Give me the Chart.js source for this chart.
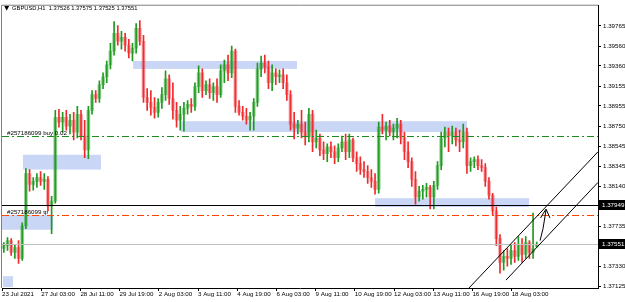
<!DOCTYPE html>
<html>
<head>
<meta charset="utf-8">
<script src="https://cdn.jsdelivr.net/npm/chart.js@4.4.1/dist/chart.umd.min.js"></script>
<style>
  html, body { margin: 0; padding: 0; background: #fff; }
</style>
</head>
<body>
<canvas id="chart" width="625" height="302"></canvas>
<script>
// GBPUSD H1, shown here as 3-hour candles
const opens = [
  1.3751, 1.3754, 1.3759, 1.3747, 1.3752, 1.3741, 1.3774, 1.3827, 1.3816, 1.3819,
  1.3823, 1.3819, 1.3821, 1.3794, 1.3799, 1.3884, 1.3879, 1.3884, 1.3875, 1.3881,
  1.3869, 1.3887, 1.3865, 1.3851, 1.3891, 1.3907, 1.3903, 1.3917, 1.3925, 1.3937,
  1.3951, 1.3969, 1.3961, 1.3965, 1.3957, 1.3949, 1.3954, 1.3974, 1.3961, 1.3904,
  1.3899, 1.3894, 1.3889, 1.3899, 1.3907, 1.3923, 1.3903, 1.3891, 1.3881, 1.3887,
  1.3893, 1.3897, 1.3895, 1.3915, 1.3929, 1.3911, 1.3917, 1.3909, 1.3915, 1.3907,
  1.3931, 1.3937, 1.3929, 1.3951, 1.3895, 1.3889, 1.3885, 1.3881, 1.3885, 1.3899,
  1.3933, 1.3939, 1.3935, 1.3919, 1.3929, 1.3925, 1.3927, 1.3919, 1.3907, 1.3877,
  1.3873, 1.3877, 1.3869, 1.3864, 1.3887, 1.3859, 1.3863, 1.3851, 1.3847, 1.3854,
  1.3849, 1.3843, 1.3853, 1.3859, 1.3849, 1.3861, 1.3843, 1.3837, 1.3831, 1.3829,
  1.3823, 1.3819, 1.3811, 1.3874, 1.3871, 1.3875, 1.3869, 1.3873, 1.3877, 1.3863,
  1.3849, 1.3839, 1.3821, 1.3803, 1.3809, 1.3811, 1.3813, 1.3803, 1.3815, 1.3835,
  1.3863, 1.3869, 1.3865, 1.3869, 1.3861, 1.3859, 1.3869, 1.3835, 1.3839, 1.3841,
  1.3835, 1.3833, 1.3819, 1.3805, 1.3789, 1.3761, 1.3737, 1.3743, 1.3741, 1.3749,
  1.3743, 1.3755, 1.3745, 1.3757, 1.3747, 1.37526
];
const highs = [
  1.3757, 1.3762, 1.3761, 1.3755, 1.3759, 1.3777, 1.3832, 1.3831, 1.3823, 1.3827,
  1.3829, 1.3827, 1.3824, 1.3804, 1.3891, 1.3892, 1.3889, 1.3891, 1.3887, 1.3889,
  1.3895, 1.3891, 1.3881, 1.3895, 1.3911, 1.3911, 1.3921, 1.3929, 1.3941, 1.3959,
  1.3981, 1.3977, 1.3971, 1.3969, 1.3963, 1.3959, 1.3979, 1.3982, 1.3967, 1.3913,
  1.3911, 1.3904, 1.3903, 1.3914, 1.3931, 1.3927, 1.3919, 1.3899, 1.3895, 1.3899,
  1.3901, 1.3903, 1.3919, 1.3936, 1.3933, 1.3921, 1.3923, 1.3919, 1.3923, 1.3937,
  1.3942, 1.3947, 1.3956, 1.3953, 1.3901, 1.3895, 1.3893, 1.3889, 1.3903, 1.3939,
  1.3946, 1.3947, 1.3941, 1.3937, 1.3933, 1.3932, 1.3933, 1.3927, 1.3911, 1.3889,
  1.3881, 1.3891, 1.3879, 1.3893, 1.3891, 1.3871, 1.3867, 1.3859, 1.3857, 1.3859,
  1.3855, 1.3857, 1.3865, 1.3867, 1.3867, 1.3863, 1.3849, 1.3844, 1.3839, 1.3835,
  1.3831, 1.3827, 1.3879, 1.3887, 1.3879, 1.3881, 1.3877, 1.3883, 1.3881, 1.3869,
  1.3859, 1.3843, 1.3829, 1.3814, 1.3815, 1.3817, 1.3815, 1.3819, 1.3839, 1.3869,
  1.3874, 1.3873, 1.3875, 1.3873, 1.3871, 1.3877, 1.3873, 1.3843, 1.3844, 1.3845,
  1.3841, 1.3837, 1.3823, 1.3807, 1.3793, 1.3765, 1.3749, 1.3751, 1.3755, 1.3757,
  1.3763, 1.3761, 1.3763, 1.3759, 1.3787, 1.37575
];
const lows = [
  1.3747, 1.3749, 1.3744, 1.3741, 1.3736, 1.3739, 1.3771, 1.3809, 1.3810, 1.3813,
  1.3815, 1.3811, 1.3789, 1.3766, 1.3797, 1.3874, 1.3869, 1.3871, 1.3867, 1.3861,
  1.3863, 1.3861, 1.3843, 1.3842, 1.3887, 1.3899, 1.3899, 1.3913, 1.3919, 1.3933,
  1.3947, 1.3957, 1.3953, 1.3951, 1.3944, 1.3941, 1.3949, 1.3957, 1.3899, 1.3891,
  1.3886, 1.3883, 1.3884, 1.3893, 1.3901, 1.3897, 1.3882, 1.3874, 1.3871, 1.3870,
  1.3887, 1.3889, 1.3891, 1.3909, 1.3904, 1.3907, 1.3903, 1.3901, 1.3899, 1.3904,
  1.3919, 1.3921, 1.3924, 1.3889, 1.3886, 1.3881, 1.3877, 1.3871, 1.3871, 1.3895,
  1.3925, 1.3929, 1.3913, 1.3911, 1.3917, 1.3919, 1.3913, 1.3901, 1.3871, 1.3862,
  1.3867, 1.3863, 1.3856, 1.3859, 1.3849, 1.3853, 1.3845, 1.3841, 1.3839, 1.3843,
  1.3837, 1.3839, 1.3849, 1.3841, 1.3843, 1.3839, 1.3829, 1.3826, 1.3823, 1.3817,
  1.3813, 1.3806, 1.3807, 1.3867, 1.3861, 1.3865, 1.3861, 1.3863, 1.3857, 1.3841,
  1.3833, 1.3814, 1.3796, 1.3799, 1.3801, 1.3803, 1.3791, 1.3791, 1.3811, 1.3831,
  1.3854, 1.3849, 1.3857, 1.3855, 1.3849, 1.3853, 1.3827, 1.3829, 1.3833, 1.3831,
  1.3829, 1.3814, 1.3801, 1.3785, 1.3754, 1.3726, 1.3729, 1.3733, 1.3735, 1.3737,
  1.3739, 1.3737, 1.3741, 1.3741, 1.3741, 1.37525
];
const closes = [
  1.3754, 1.3759, 1.3747, 1.3752, 1.3741, 1.3774, 1.3827, 1.3816, 1.3819, 1.3823,
  1.3819, 1.3821, 1.3794, 1.3799, 1.3884, 1.3879, 1.3884, 1.3875, 1.3881, 1.3869,
  1.3887, 1.3865, 1.3851, 1.3891, 1.3907, 1.3903, 1.3917, 1.3925, 1.3937, 1.3951,
  1.3969, 1.3961, 1.3965, 1.3957, 1.3949, 1.3954, 1.3974, 1.3961, 1.3904, 1.3899,
  1.3894, 1.3889, 1.3899, 1.3907, 1.3923, 1.3903, 1.3891, 1.3881, 1.3887, 1.3893,
  1.3897, 1.3895, 1.3915, 1.3929, 1.3911, 1.3917, 1.3909, 1.3915, 1.3907, 1.3931,
  1.3937, 1.3929, 1.3951, 1.3895, 1.3889, 1.3885, 1.3881, 1.3885, 1.3899, 1.3933,
  1.3939, 1.3935, 1.3919, 1.3929, 1.3925, 1.3927, 1.3919, 1.3907, 1.3877, 1.3873,
  1.3877, 1.3869, 1.3864, 1.3887, 1.3859, 1.3863, 1.3851, 1.3847, 1.3854, 1.3849,
  1.3843, 1.3853, 1.3859, 1.3849, 1.3861, 1.3843, 1.3837, 1.3831, 1.3829, 1.3823,
  1.3819, 1.3811, 1.3874, 1.3871, 1.3875, 1.3869, 1.3873, 1.3877, 1.3863, 1.3849,
  1.3839, 1.3821, 1.3803, 1.3809, 1.3811, 1.3813, 1.3803, 1.3815, 1.3835, 1.3863,
  1.3869, 1.3865, 1.3869, 1.3861, 1.3859, 1.3869, 1.3835, 1.3839, 1.3841, 1.3835,
  1.3833, 1.3819, 1.3805, 1.3789, 1.3761, 1.3737, 1.3743, 1.3741, 1.3749, 1.3743,
  1.3755, 1.3745, 1.3757, 1.3747, 1.3751, 1.37551
];

const hoursPerBar = 3;
const visibleHours = 486.5;     // chart width in H1 bars, incl. the shift area on the right
const labelStep = 32;           // one time label every 32 bars
const timeLabels = [
  "23 Jul 2021", "27 Jul 03:00", "28 Jul 11:00", "29 Jul 19:00", "2 Aug 03:00",
  "3 Aug 11:00", "4 Aug 19:00", "6 Aug 03:00", "9 Aug 11:00", "10 Aug 19:00",
  "12 Aug 03:00", "13 Aug 11:00", "16 Aug 19:00", "18 Aug 03:00"
];
const priceTicks = [
  1.39765, 1.39560, 1.39360, 1.39155, 1.38955, 1.38750, 1.38545,
  1.38345, 1.38140, 1.37735, 1.37330, 1.37125
];
const priceMin = 1.3711;
const priceMax = 1.3997;

const symbolTitle = "GBPUSD,H1  1.37526 1.37575 1.37525 1.37551";
const orderId = "#257186099";
const buyPrice = 1.3865;
const tpPrice = 1.3785;
const levelPrice = 1.37949;
const bidPrice = 1.37551;

// drawn rectangles: [from hour, to hour, upper price, lower price]
const zones = [
  [17.1, 80.8, 1.3846, 1.3831],
  [0, 41.6, 1.3785, 1.3770],
  [0.8, 9.0, 1.3723, 1.3712],
  [107.0, 240.8, 1.3941, 1.3933],
  [146.1, 379.6, 1.3880, 1.3869],
  [304.5, 430.2, 1.3802, 1.3793]
];
// trend channel: [hour, price] pairs
const channelTop = [[381.2, 1.3711], [486.5, 1.3849]];
const channelBottom = [[411.4, 1.3719], [486.5, 1.3818]];
const arrowPath = [[439.2, 1.3759], [441.6, 1.3771], [444.1, 1.3790]];
const arrowHead = [[439.6, 1.3782], [444.1, 1.3791], [447.3, 1.3782]];

const FONT = "'Liberation Sans', Arial, sans-serif";
const isBull = (i) => closes[i] >= opens[i];
const barX = (i) => i * hoursPerBar + hoursPerBar / 2;

const bodyData = opens.map((o, i) => ({ x: barX(i), y: [o, closes[i]] }));
const wickData = highs.map((h, i) => ({ x: barX(i), y: [lows[i], h] }));

const overlayPlugin = {
  id: "mtOverlay",
  beforeDatasetsDraw(chart) {
    const { ctx, chartArea: a, scales: { x, y } } = chart;
    ctx.save();
    ctx.beginPath();
    ctx.rect(a.left, a.top, a.right - a.left, a.bottom - a.top);
    ctx.clip();
    ctx.fillStyle = "#c9d6f6";
    zones.forEach(([h1, h2, p1, p2]) => {
      const x1 = x.getPixelForValue(h1), x2 = x.getPixelForValue(h2);
      const y1 = y.getPixelForValue(p1), y2 = y.getPixelForValue(p2);
      ctx.fillRect(x1, y1, x2 - x1, y2 - y1);
    });
    ctx.restore();
  },
  afterDatasetsDraw(chart) {
    const { ctx, chartArea: a, scales: { x, y } } = chart;
    const hLine = (price, color, dash) => {
      const py = Math.round(y.getPixelForValue(price)) + 0.5;
      ctx.strokeStyle = color;
      ctx.setLineDash(dash);
      ctx.beginPath();
      ctx.moveTo(a.left, py);
      ctx.lineTo(a.right, py);
      ctx.stroke();
      return py;
    };
    const path = (pts) => {
      ctx.beginPath();
      pts.forEach(([h, p], i) => {
        const px = x.getPixelForValue(h), py = y.getPixelForValue(p);
        if (i === 0) ctx.moveTo(px, py); else ctx.lineTo(px, py);
      });
      ctx.stroke();
    };

    ctx.save();
    ctx.beginPath();
    ctx.rect(a.left, a.top, a.right - a.left, a.bottom - a.top);
    ctx.clip();
    ctx.lineWidth = 1;
    hLine(bidPrice, "#c0c0c0", []);
    const buyY = hLine(buyPrice, "#1e8a1e", [7, 3, 2, 3]);
    const tpY = hLine(tpPrice, "#ff4500", [7, 3, 2, 3]);
    hLine(levelPrice, "#000000", []);
    ctx.setLineDash([]);
    ctx.strokeStyle = "#000";
    path(channelTop);
    path(channelBottom);
    path(arrowPath);
    path(arrowHead);

    ctx.font = "6.2px " + FONT;
    ctx.fillStyle = "#000";
    ctx.textAlign = "left";
    ctx.textBaseline = "bottom";
    ctx.fillText(orderId + " buy 0.02", a.left + 5, buyY - 0.5);
    ctx.fillText(orderId + " tp", a.left + 5, tpY - 0.5);

    ctx.textBaseline = "middle";
    ctx.font = "7px 'DejaVu Sans', sans-serif";
    ctx.fillText("\u25BC", a.left + 2, 8);
    ctx.font = "5.8px " + FONT;
    ctx.fillText(symbolTitle, a.left + 10, 8.5);
    ctx.restore();

    // frame
    ctx.save();
    ctx.strokeStyle = "#808080";
    ctx.lineWidth = 1;
    ctx.beginPath();
    ctx.moveTo(a.left - 0.5, a.bottom);
    ctx.lineTo(a.left - 0.5, a.top - 0.5);
    ctx.lineTo(a.right, a.top - 0.5);
    ctx.stroke();
    ctx.restore();

    // price boxes on the right axis
    ctx.save();
    ctx.font = "6.2px " + FONT;
    ctx.textBaseline = "middle";
    ctx.textAlign = "left";
    [levelPrice, bidPrice].forEach((p) => {
      const py = Math.round(y.getPixelForValue(p));
      ctx.fillStyle = "#000";
      ctx.fillRect(a.right + 1, py - 5, 26, 10);
      ctx.fillStyle = "#fff";
      ctx.fillText(p.toFixed(5), a.right + 4, py + 0.5);
    });
    ctx.restore();
  }
};

new Chart(document.getElementById("chart"), {
  type: "bar",
  data: {
    datasets: [
      {
        label: "body",
        data: bodyData,
        grouped: false,
        barThickness: 3,
        borderWidth: 0,
        backgroundColor: (c) => isBull(c.dataIndex) ? "rgba(40,160,40,0.5)" : "rgba(240,50,60,0.45)"
      },
      {
        label: "wick",
        data: wickData,
        grouped: false,
        barThickness: 1,
        borderWidth: 0,
        backgroundColor: (c) => isBull(c.dataIndex) ? "#1f9a1f" : "#f02a2a"
      }
    ]
  },
  options: {
    responsive: false,
    animation: false,
    layout: { padding: { left: 2, top: 2, right: 0, bottom: 0 } },
    plugins: {
      legend: { display: false },
      tooltip: { enabled: false }
    },
    scales: {
      x: {
        type: "linear",
        offset: false,
        min: 0,
        max: visibleHours,
        afterBuildTicks: (axis) => {
          axis.ticks = timeLabels.map((_, i) => ({ value: i * labelStep }));
        },
        afterFit: (axis) => { axis.height = 14; },
        border: { display: true, color: "#000" },
        grid: { offset: false, drawOnChartArea: false, drawTicks: true, tickLength: 3, color: "#000" },
        ticks: {
          autoSkip: false,
          maxRotation: 0,
          align: "start",
          padding: 0,
          color: "#000",
          font: { family: FONT, size: 6.2 },
          callback: (v, i) => timeLabels[i]
        }
      },
      y: {
        position: "right",
        min: priceMin,
        max: priceMax,
        afterBuildTicks: (axis) => {
          axis.ticks = priceTicks.map((v) => ({ value: v }));
        },
        afterFit: (axis) => { axis.width = 27; },
        border: { display: true, color: "#000" },
        grid: { drawOnChartArea: false, drawTicks: true, tickLength: 3, color: "#000" },
        ticks: {
          padding: 2,
          color: "#000",
          font: { family: FONT, size: 6.2 },
          callback: (v) => v.toFixed(5)
        }
      }
    }
  },
  plugins: [overlayPlugin]
});
</script>
</body>
</html>
